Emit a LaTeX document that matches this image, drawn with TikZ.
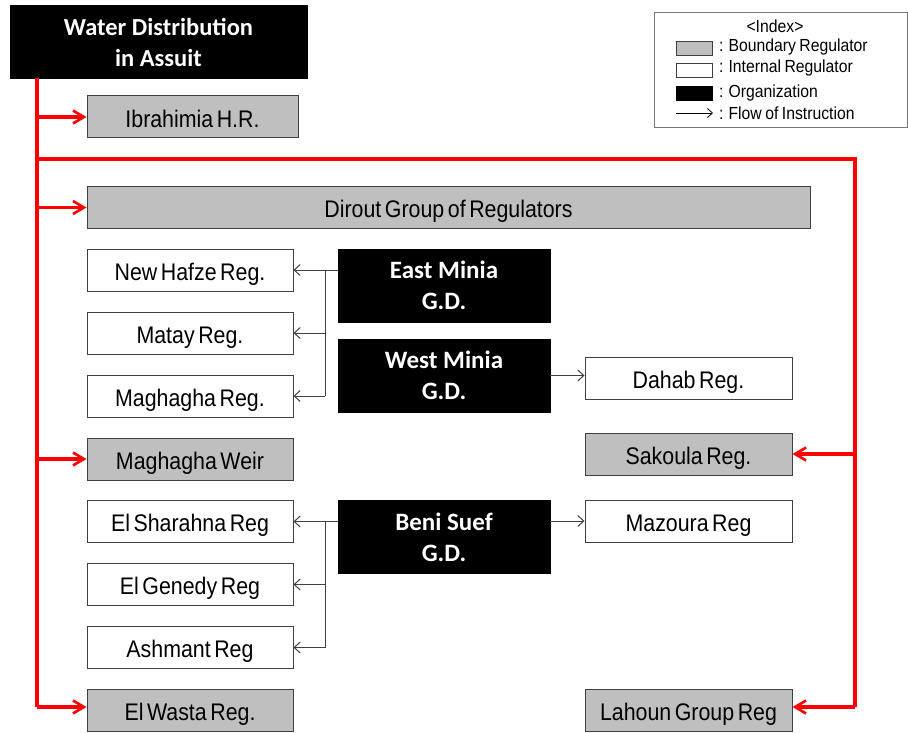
\documentclass[tikz,border=0pt]{standalone}
\usepackage{fontspec}
\setmainfont{Liberation Sans}
\newfontfamily\narrowfont[FakeStretch=0.89,WordSpace=0.6]{Liberation Sans}
\newfontfamily\legendfont[FakeStretch=0.9,WordSpace=0.8]{Liberation Sans}
\newfontfamily\titlefont{Carlito}
\usetikzlibrary{arrows.meta,calc}
\definecolor{boundgray}{HTML}{BFBFBF}
\definecolor{edgegray}{HTML}{404040}
\definecolor{flowred}{HTML}{FF0000}
\begin{document}
\begin{tikzpicture}[x=1pt,y=-1pt,
  regbox/.style={draw=edgegray, line width=1pt, minimum height=42pt, inner sep=0pt,
    text height=21pt, text depth=0.5pt,
    font=\narrowfont\fontsize{24}{26}\selectfont, text=black},
  boundary/.style={regbox, fill=boundgray},
  internal/.style={regbox, fill=white},
  orgbox/.style={fill=black, draw=black, minimum width=212pt, minimum height=73pt, inner sep=0pt,
    text=white, align=center, font=\titlefont\bfseries\fontsize{25}{31}\selectfont},
  redflow/.style={draw=flowred, line width=3.4pt, -{Straight Barb[length=11pt,width=13pt,line width=2.6pt]}},
  redline/.style={draw=flowred, line width=3.4pt},
  blackflow/.style={draw=edgegray, line width=1pt, -{Straight Barb[length=6pt,width=11pt]}},
  blackline/.style={draw=edgegray, line width=1pt},
  legendtext/.style={font=\legendfont\fontsize{17.5}{20}\selectfont, anchor=west, inner sep=0pt},
  swatch/.style={draw=edgegray, line width=0.8pt, minimum width=36pt, minimum height=14pt, inner sep=0pt}
]
\useasboundingbox (0,0) rectangle (908,733);

% headquarters
\node[orgbox, minimum width=297pt, minimum height=73pt, font=\titlefont\bfseries\fontsize{24.5}{31}\selectfont] (hq) at (158.5,42) {Water Distribution\\in Assuit};

% legend
\node[draw=edgegray!70, line width=1pt, minimum width=253pt, minimum height=115pt, inner sep=0pt] (legend) at (780.5,70.5) {};
\node[font=\legendfont\fontsize{17.5}{20}\selectfont, inner sep=0pt] (lgtitle) at (775,26) {<Index>};
\node[swatch, fill=boundgray] (lg1) at (694,48.5) {};
\node[legendtext] (lg1t) at (719,47) {: Boundary Regulator};
\node[swatch, fill=white] (lg2) at (694,70) {};
\node[legendtext] (lg2t) at (719,68) {: Internal Regulator};
\node[swatch, fill=black, draw=black] (lg3) at (694,93) {};
\node[legendtext] (lg3t) at (719,93) {: Organization};
\coordinate (lg4a) at (676,113);
\coordinate (lg4b) at (713,113);
\draw[draw=black, line width=0.8pt, -{Straight Barb[length=5pt,width=9pt]}] (lg4a) -- (lg4b);
\node[legendtext] (lg4t) at (719,113) {: Flow of Instruction};

% boundary regulators
\node[boundary, minimum width=211pt] (ibra) at (192.5,117) {Ibrahimia H.R.};
\node[boundary, minimum width=723pt] (dirout) at (448.5,207.5) {Dirout Group of Regulators};
\node[boundary, minimum width=206pt] (mweir) at (190,459) {Maghagha Weir};
\node[boundary, minimum width=206pt] (wasta) at (190,710.5) {El Wasta Reg.};
\node[boundary, minimum width=207pt] (sakoula) at (688.5,454) {Sakoula Reg.};
\node[boundary, minimum width=207pt] (lahoun) at (688.5,710.5) {Lahoun Group Reg};

% internal regulators
\node[internal, minimum width=206pt] (hafze) at (190,270) {New Hafze Reg.};
\node[internal, minimum width=206pt] (matay) at (190,333) {Matay Reg.};
\node[internal, minimum width=206pt] (maghagha) at (190,396) {Maghagha Reg.};
\node[internal, minimum width=206pt] (sharahna) at (190,521.5) {El Sharahna Reg};
\node[internal, minimum width=206pt] (genedy) at (190,584.5) {El Genedy Reg};
\node[internal, minimum width=206pt] (ashmant) at (190,647.5) {Ashmant Reg};
\node[internal, minimum width=207pt] (dahab) at (688.5,378) {Dahab Reg.};
\node[internal, minimum width=207pt] (mazoura) at (688.5,521) {Mazoura Reg};

% general directorates
\node[orgbox] (eastm) at (444,285.5) {East Minia\\G.D.};
\node[orgbox] (westm) at (444,375.5) {West Minia\\G.D.};
\node[orgbox] (benis) at (444,537) {Beni Suef\\G.D.};

% red instruction lines from headquarters
\coordinate (rtop) at (37,78);
\coordinate (rcorner) at (855,159);
\coordinate (wastain) at ($(wasta.west)+(0,-3.5)$);
\coordinate (lahounin) at ($(lahoun.east)+(0,-3.5)$);
\draw[redline] (rtop) -- (rtop |- wastain);
\draw[redflow] (rtop |- wastain) -- (wastain);
\draw[redflow] (rtop |- ibra.west) -- (ibra.west);
\draw[redflow] (rtop |- dirout.west) -- (dirout.west);
\draw[redflow] (rtop |- mweir.west) -- (mweir.west);
\draw[redline, line join=miter] (rtop |- rcorner) -- (rcorner) -- (rcorner |- lahounin);
\draw[redflow] (rcorner |- sakoula.east) -- (sakoula.east);
\draw[redflow] (rcorner |- lahounin) -- (lahounin);

% East Minia branches
\coordinate (ebar) at (325,0);
\draw[blackflow] (eastm.west |- hafze.east) -- (hafze.east);
\draw[blackline] (ebar |- hafze.east) -- (ebar |- maghagha.east);
\draw[blackflow] (ebar |- matay.east) -- (matay.east);
\draw[blackflow] (ebar |- maghagha.east) -- (maghagha.east);

% West Minia branch
\draw[blackflow] (westm.east) -- (westm.east -| dahab.west);

% Beni Suef branches
\draw[blackflow] (benis.west |- sharahna.east) -- (sharahna.east);
\draw[blackline] (ebar |- sharahna.east) -- (ebar |- ashmant.east);
\draw[blackflow] (ebar |- genedy.east) -- (genedy.east);
\draw[blackflow] (ebar |- ashmant.east) -- (ashmant.east);
\draw[blackflow] (benis.east |- mazoura.west) -- (mazoura.west);
\end{tikzpicture}
\end{document}
